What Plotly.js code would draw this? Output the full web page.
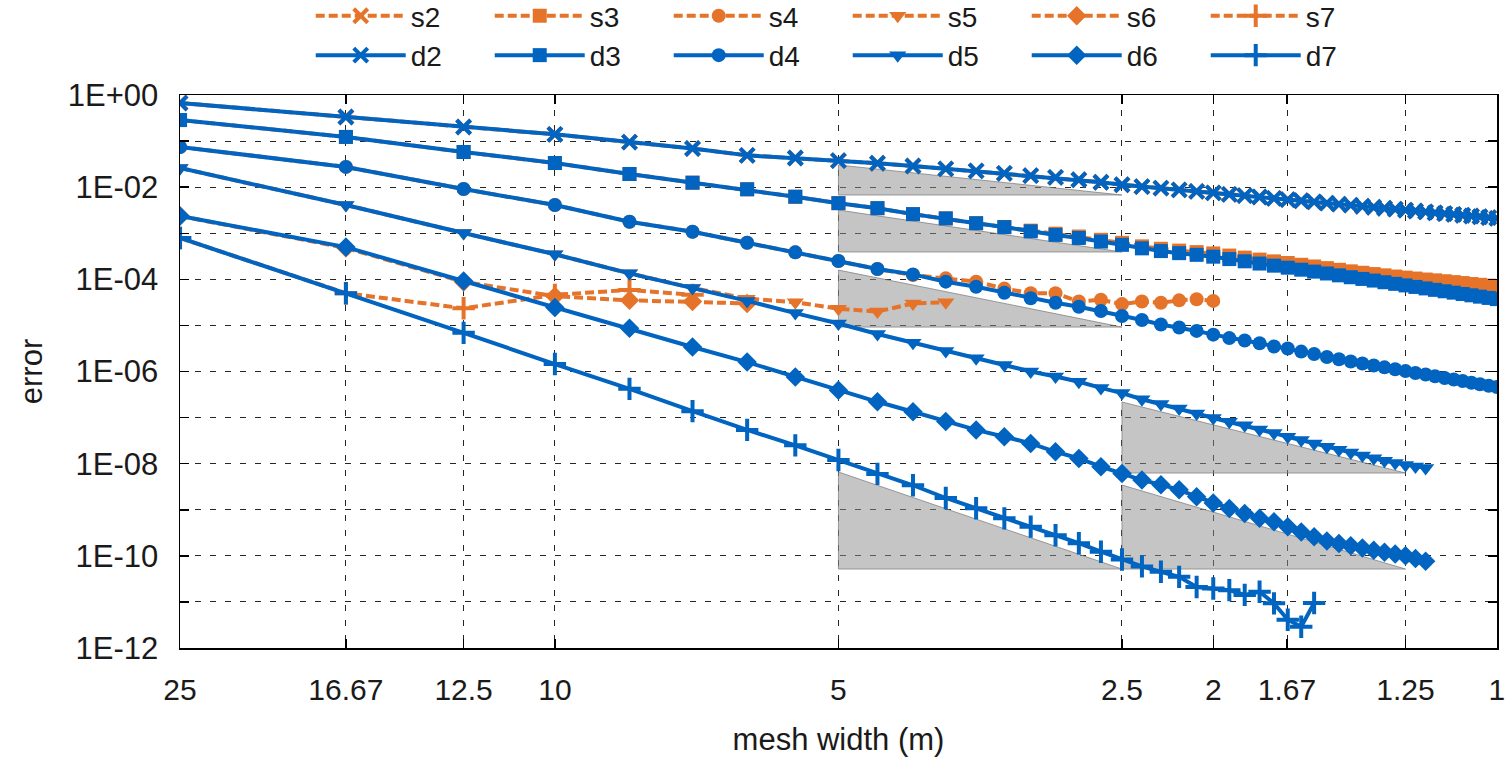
<!DOCTYPE html>
<html>
<head>
<meta charset="utf-8">
<script src="https://cdn.plot.ly/plotly-3.0.1.min.js"></script>
<style>html,body{margin:0;padding:0;background:#fff;}#chart{width:1507px;height:763px;}</style>
</head>
<body>
<div id="chart"></div>
<script>
// mesh width h = 50/n, n = 2..50
const meshWidth = [25, 16.667, 12.5, 10, 8.333, 7.143, 6.25, 5.556, 5, 4.545, 4.167, 3.846, 3.571, 3.333, 3.125, 2.941, 2.778, 2.632, 2.5, 2.381, 2.273, 2.174, 2.083, 2, 1.923, 1.852, 1.786, 1.724, 1.667, 1.613, 1.563, 1.515, 1.471, 1.429, 1.389, 1.351, 1.316, 1.282, 1.25, 1.22, 1.19, 1.163, 1.136, 1.111, 1.087, 1.064, 1.042, 1.02, 1];

const d2 = [0.67, 0.333, 0.202, 0.14, 0.095, 0.069, 0.049, 0.043, 0.0376, 0.033, 0.0288, 0.025, 0.0225, 0.020, 0.0178, 0.0163, 0.0145, 0.0128, 0.0113, 0.0103, 0.0095, 0.0087, 0.0081, 0.0075, 0.0070, 0.00653, 0.00611, 0.00573, 0.00538, 0.00507, 0.00479, 0.00452, 0.00428, 0.00406, 0.00385, 0.00366, 0.00349, 0.00333, 0.00318, 0.00304, 0.00291, 0.00278, 0.00267, 0.00256, 0.00246, 0.00237, 0.00228, 0.00219, 0.00211];
const s2 = [0.67, 0.333, 0.202, 0.14, 0.095, 0.069, 0.049, 0.043, 0.0376, 0.033, 0.0288, 0.025, 0.0225, 0.020, 0.0178, 0.0163, 0.0145, 0.0128, 0.0113, 0.0103, 0.0095, 0.0087, 0.0081, 0.0075, 0.0070, 0.00653, 0.00611, 0.00573, 0.00538, 0.00507, 0.00479, 0.00452, 0.00428, 0.00406, 0.00385, 0.00366, 0.00349, 0.00333, 0.00318, 0.00304, 0.00291, 0.00278, 0.00267, 0.00256, 0.00246, 0.00237, 0.00228, 0.00219, 0.00211];

const d3 = [0.286, 0.123, 0.058, 0.0334, 0.0193, 0.0125, 0.0090, 0.0062, 0.0045, 0.0035, 0.0026, 0.0021, 0.00165, 0.00136, 0.00110, 0.00092, 0.00079, 0.00066, 0.00056, 0.00047, 0.00041, 0.00037, 0.00034, 0.00031, 0.000275, 0.000246, 0.00022, 0.000198, 0.000179, 0.000162, 0.000147, 0.000134, 0.000122, 0.000111, 0.000102, 9.4e-5, 8.65e-5, 7.98e-5, 7.38e-5, 6.84e-5, 6.35e-5, 5.91e-5, 5.51e-5, 5.14e-5, 4.8e-5, 4.5e-5, 4.21e-5, 3.95e-5, 3.72e-5];
const s3 = [0.286, 0.123, 0.058, 0.0334, 0.0193, 0.0125, 0.0090, 0.0062, 0.0045, 0.0035, 0.0026, 0.0021, 0.00165, 0.00136, 0.00114, 0.00098, 0.00085, 0.00072, 0.00062, 0.00052, 0.00046, 0.00042, 0.00039, 0.000365, 0.000328, 0.000296, 0.000268, 0.000245, 0.000226, 0.000207, 0.00019, 0.000175, 0.000161, 0.000149, 0.000139, 0.00013, 0.000122, 0.000115, 0.000109, 0.000104, 9.9e-5, 9.5e-5, 9.1e-5, 8.7e-5, 8.3e-5, 7.9e-5, 7.6e-5, 7.3e-5, 7.1e-5];

const d4 = [0.0744, 0.0275, 0.0091, 0.0041, 0.00178, 0.00108, 0.00062, 0.000385, 0.00025, 0.000167, 0.000128, 8.9e-5, 6.9e-5, 5.1e-5, 3.9e-5, 3.1e-5, 2.55e-5, 2.05e-5, 1.6e-5, 1.31e-5, 1.05e-5, 9.0e-6, 7.6e-6, 6.3e-6, 5.3e-6, 4.7e-6, 4.1e-6, 3.5e-6, 3.15e-6, 2.7e-6, 2.4e-6, 2.06e-6, 1.84e-6, 1.65e-6, 1.49e-6, 1.35e-6, 1.23e-6, 1.12e-6, 1.02e-6, 9.3e-7, 8.6e-7, 7.9e-7, 7.2e-7, 6.7e-7, 6.2e-7, 5.7e-7, 5.3e-7, 4.9e-7, 4.6e-7];
const s4 = [0.0744, 0.0275, 0.0091, 0.0041, 0.00178, 0.00108, 0.00062, 0.000385, 0.00025, 0.000167, 0.000124, 0.000105, 8.9e-5, 6.3e-5, 5.0e-5, 5.0e-5, 3.3e-5, 3.6e-5, 2.9e-5, 3.3e-5, 3.1e-5, 3.5e-5, 3.7e-5, 3.4e-5];

const d5 = [0.026, 0.0041, 0.00101, 0.00035, 0.000135, 6.5e-5, 3.4e-5, 1.85e-5, 1.1e-5, 6.5e-6, 4.2e-6, 2.8e-6, 1.94e-6, 1.39e-6, 1.0e-6, 7.8e-7, 6.0e-7, 4.4e-7, 3.4e-7, 2.5e-7, 1.98e-7, 1.58e-7, 1.23e-7, 9.8e-8, 8.1e-8, 6.8e-8, 5.5e-8, 4.6e-8, 3.85e-8, 3.25e-8, 2.75e-8, 2.33e-8, 2.0e-8, 1.74e-8, 1.5e-8, 1.31e-8, 1.16e-8, 1.04e-8, 9.4e-9, 8.7e-9, 8.1e-9];
const s5 = [0.026, 0.0041, 0.00101, 0.00035, 0.000135, 6.5e-5, 3.8e-5, 3.2e-5, 2.3e-5, 2.0e-5, 3.0e-5, 3.2e-5];

const d6 = [0.00236, 0.0005, 9.2e-5, 2.45e-5, 8.7e-6, 3.4e-6, 1.6e-6, 7.6e-7, 3.9e-7, 2.2e-7, 1.34e-7, 8.2e-8, 5.4e-8, 3.85e-8, 2.75e-8, 1.81e-8, 1.3e-8, 8.6e-9, 6.1e-9, 4.4e-9, 3.5e-9, 2.7e-9, 1.92e-9, 1.4e-9, 1.07e-9, 8.3e-10, 6.5e-10, 5.5e-10, 4.3e-10, 3.3e-10, 2.6e-10, 2.1e-10, 1.85e-10, 1.65e-10, 1.48e-10, 1.33e-10, 1.2e-10, 1.1e-10, 1.0e-10, 8.8e-11, 7.6e-11];
const s6 = [0.00236, 0.00048, 8.8e-5, 4.3e-5, 3.5e-5, 3.3e-5, 3.0e-5];

const d7 = [7.9e-4, 5.0e-5, 6.9e-6, 1.45e-6, 4.2e-7, 1.38e-7, 5.4e-8, 2.5e-8, 1.2e-8, 6.0e-9, 3.4e-9, 1.8e-9, 1.08e-9, 6.5e-10, 4.3e-10, 2.8e-10, 1.88e-10, 1.23e-10, 8.3e-11, 5.9e-11, 4.5e-11, 3.5e-11, 2.1e-11, 1.95e-11, 1.8e-11, 1.42e-11, 1.66e-11, 9.3e-12, 4.1e-12, 2.9e-12, 9.5e-12];
const s7 = [7.9e-4, 5.0e-5, 2.35e-5, 4.6e-5, 5.9e-5, 4.6e-5];

// slope triangles: [h_start, h_end, err_top, err_bottom]
const triangle2 = [5, 2.5, 3.03e-2, 6.76e-3];
const triangle3 = [5, 2.5, 3.19e-3, 3.92e-4];
const triangle4 = [5, 2.5, 1.59e-4, 9.2e-6];
const triangle5 = [2.5, 1.25, 2.18e-7, 6.26e-9];
const triangle6 = [2.5, 1.25, 3.44e-9, 5.17e-11];
const triangle7 = [5, 2.5, 6.6e-9, 5.17e-11];

const xTickVals = [25, 16.67, 12.5, 10, 5, 2.5, 2, 1.67, 1.25, 1];
const xTickText = ['25', '16.67', '12.5', '10', '5', '2.5', '2', '1.67', '1.25', '1'];
const yTickVals = [1e-12, 1e-11, 1e-10, 1e-9, 1e-8, 1e-7, 1e-6, 1e-5, 1e-4, 1e-3, 1e-2, 1e-1, 1];
const yTickText = ['1E-12', '', '1E-10', '', '1E-08', '', '1E-06', '', '1E-04', '', '1E-02', '', '1E+00'];

const names = ['2', '3', '4', '5', '6', '7'];
const sSeries = [s2, s3, s4, s5, s6, s7];
const dSeries = [d2, d3, d4, d5, d6, d7];
const symbols = ['x-thin', 'square', 'circle', 'triangle-down', 'diamond', 'cross-thin'];
const symbolSizes = [14, 14, 14, 15, 15, 16];
const triangles = [triangle2, triangle3, triangle4, triangle5, triangle6, triangle7];

const BLUE = '#0064c0';
const ORANGE = '#e5742a';

const traces = [];
triangles.forEach(t => {
  traces.push({
    x: [t[0], t[1], t[0], t[0]],
    y: [t[2], t[3], t[3], t[2]],
    mode: 'lines', fill: 'toself',
    fillcolor: 'rgba(140,140,140,0.5)',
    line: {color: 'rgba(120,120,120,0.7)', width: 1},
    showlegend: false, hoverinfo: 'skip'
  });
});

function markerFor(i, color) {
  const sym = symbols[i];
  const thin = sym.indexOf('thin') >= 0;
  return {symbol: sym, size: symbolSizes[i], color: color,
          line: {color: color, width: thin ? 4 : 0}};
}

names.forEach((nm, i) => {
  const ys = sSeries[i];
  traces.push({
    x: meshWidth.slice(0, ys.length), y: ys,
    name: 's' + nm, legendgroup: 'g' + nm,
    mode: 'lines+markers',
    line: {color: ORANGE, width: 4, dash: '9px,4px'},
    marker: markerFor(i, ORANGE)
  });
});
names.forEach((nm, i) => {
  const ys = dSeries[i];
  traces.push({
    x: meshWidth.slice(0, ys.length), y: ys,
    name: 'd' + nm, legendgroup: 'g' + nm,
    mode: 'lines+markers',
    line: {color: BLUE, width: 4},
    marker: markerFor(i, BLUE)
  });
});

const FONT = 'Liberation Sans, Arial, Helvetica, sans-serif';
const TXT = '#1a1a1a';
const layout = {
  width: 1507, height: 763,
  margin: {l: 180, r: 10, t: 95, b: 115, autoexpand: false},
  paper_bgcolor: '#ffffff', plot_bgcolor: '#ffffff',
  font: {family: FONT, size: 30, color: TXT},
  showlegend: true,
  legend: {
    orientation: 'h', traceorder: 'grouped', tracegroupgap: 0,
    x: 0.507, xanchor: 'center', y: 1.188, yanchor: 'top',
    itemwidth: 90, entrywidth: 74,
    font: {family: FONT, size: 28, color: TXT},
    bgcolor: 'rgba(0,0,0,0)'
  },
  xaxis: {
    type: 'log', range: [Math.log10(25.003), -0.0002], autorange: false,
    tickmode: 'array', tickvals: xTickVals, ticktext: xTickText,
    ticks: 'inside', ticklen: 9, tickwidth: 1.5, tickcolor: '#000',
    showline: true, linecolor: '#000', linewidth: 1.5, mirror: 'ticks',
    showgrid: true, gridcolor: 'rgba(0,0,0,0.85)', gridwidth: 1, griddash: '6px,9px',
    zeroline: false, ticklabelstandoff: 14, ticklabeloverflow: 'allow',
    tickfont: {family: FONT, size: 30, color: TXT},
    title: {text: 'mesh width (m)', standoff: 24, font: {family: FONT, size: 31, color: TXT}}
  },
  yaxis: {
    type: 'log', range: [-12, 0], autorange: false,
    tickmode: 'array', tickvals: yTickVals, ticktext: yTickText,
    ticks: 'inside', ticklen: 9, tickwidth: 1.5, tickcolor: '#000',
    showline: true, linecolor: '#000', linewidth: 1.5, mirror: 'ticks',
    showgrid: true, gridcolor: 'rgba(0,0,0,0.85)', gridwidth: 1, griddash: '6px,9px',
    zeroline: false, ticklabelstandoff: 14, ticklabeloverflow: 'allow',
    tickfont: {family: FONT, size: 31, color: TXT},
    title: {text: 'error', standoff: 16, font: {family: FONT, size: 31, color: TXT}}
  }
};

Plotly.newPlot('chart', traces, layout, {displayModeBar: false, staticPlot: true});
</script>
</body>
</html>
